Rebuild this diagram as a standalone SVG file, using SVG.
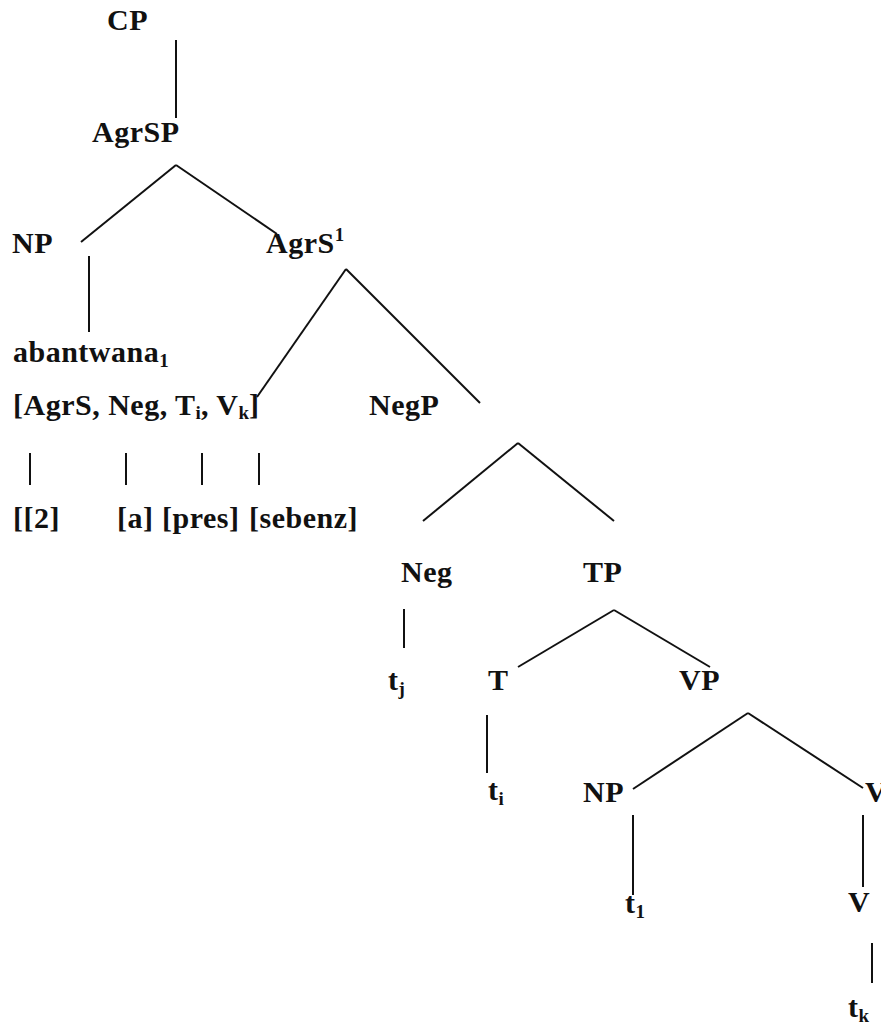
<svg xmlns="http://www.w3.org/2000/svg" width="881" height="1025" viewBox="0 0 881 1025">
<style>
text{font-family:"Liberation Serif","Times New Roman",serif;font-weight:bold;font-size:30px;letter-spacing:0.5px;fill:#111}
.sub{font-size:19px;letter-spacing:0}
line{stroke:#111;stroke-width:2;stroke-linecap:butt}
</style>
<rect width="881" height="1025" fill="#fff"/>
<g id="connectors">
<line x1="176" y1="40" x2="176" y2="118"/>
<line x1="176" y1="165" x2="81" y2="242"/>
<line x1="176" y1="165" x2="277" y2="234"/>
<line x1="89" y1="256" x2="89" y2="332"/>
<line x1="346" y1="269" x2="257" y2="397"/>
<line x1="346" y1="269" x2="480" y2="403"/>
<line x1="30" y1="453" x2="30" y2="485"/>
<line x1="126" y1="453" x2="126" y2="485"/>
<line x1="202" y1="453" x2="202" y2="485"/>
<line x1="259" y1="453" x2="259" y2="485"/>
<line x1="518" y1="443" x2="423" y2="521"/>
<line x1="518" y1="443" x2="614" y2="521"/>
<line x1="404" y1="609" x2="404" y2="648"/>
<line x1="614" y1="610" x2="518" y2="667"/>
<line x1="614" y1="610" x2="710" y2="667"/>
<line x1="487" y1="715" x2="487" y2="773"/>
<line x1="748" y1="713" x2="633" y2="789"/>
<line x1="748" y1="713" x2="863" y2="788"/>
<line x1="633" y1="815" x2="633" y2="895"/>
<line x1="863" y1="815" x2="863" y2="887"/>
<line x1="872" y1="943" x2="872" y2="983"/>
</g>
<g id="n-cp"><text x="107" y="30">CP</text></g>
<g id="n-agrsp"><text x="92" y="142">AgrSP</text></g>
<g id="n-np1"><text x="12" y="253">NP</text></g>
<g id="n-agrs1"><text x="266" y="253">AgrS<tspan class="sub" dy="-12">1</tspan></text></g>
<g id="n-abantwana"><text x="13" y="362">abantwana<tspan class="sub" dy="5">1</tspan></text></g>
<g id="n-complex"><text x="13" y="415">[AgrS, Neg, T<tspan class="sub" dy="4">i</tspan><tspan dy="-4">, V</tspan><tspan class="sub" dy="4">k</tspan><tspan dy="-4">]</tspan></text></g>
<g id="n-2"><text x="13" y="528">[[2]</text></g>
<g id="n-a"><text x="117" y="528">[a]</text></g>
<g id="n-pres"><text x="162" y="528">[pres]</text></g>
<g id="n-sebenz"><text x="249" y="528">[sebenz]</text></g>
<g id="n-negp"><text x="369" y="415">NegP</text></g>
<g id="n-neg"><text x="401" y="582">Neg</text></g>
<g id="n-tp"><text x="583" y="582">TP</text></g>
<g id="n-tj"><text x="388" y="690">t<tspan class="sub" dy="5">j</tspan></text></g>
<g id="n-t"><text x="488" y="690">T</text></g>
<g id="n-vp"><text x="679" y="690">VP</text></g>
<g id="n-ti"><text x="488" y="800">t<tspan class="sub" dy="5">i</tspan></text></g>
<g id="n-np2"><text x="583" y="802">NP</text></g>
<g id="n-vbar"><text x="865" y="802">V</text></g>
<g id="n-t1"><text x="625" y="913">t<tspan class="sub" dy="5">1</tspan></text></g>
<g id="n-v"><text x="848" y="912">V</text></g>
<g id="n-tk"><text x="848" y="1017">t<tspan class="sub" dy="5">k</tspan></text></g>
</svg>
